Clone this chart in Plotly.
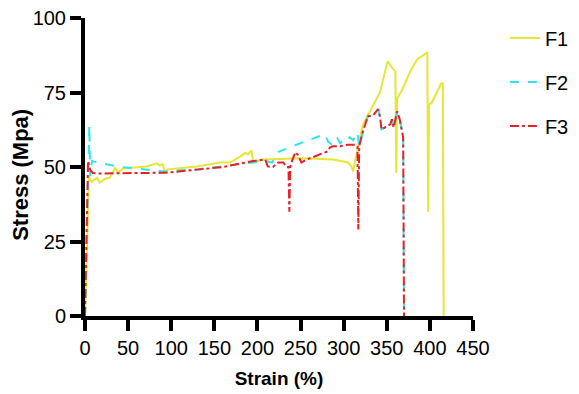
import plotly.graph_objects as go

f1_strain = [0, 4.5, 6, 8, 14, 17, 23, 29, 35, 38, 44, 72, 83, 87, 90, 93, 96, 130, 157, 168, 180, 186, 189, 193, 195, 199, 207, 253, 288, 305, 309, 311, 314, 322, 342, 351, 357, 360, 361, 362, 368, 377, 385, 394, 397, 398, 399, 402, 408, 413, 415, 416]
f1_stress = [0, 47, 45.5, 45, 46.4, 44.8, 46, 46.4, 49.8, 48, 49.5, 50.2, 51.2, 50.5, 51, 48.2, 49.2, 50.2, 51.5, 51.5, 53.5, 54.8, 54.2, 55.6, 51.5, 52, 52.5, 52.9, 52.5, 51.5, 50.2, 48.5, 53, 64, 75, 85.5, 83, 82, 48, 73, 76, 82, 86, 88, 88.5, 35, 71, 71.5, 75, 78, 78, 0]

f2_strain = [0, 3, 5, 6, 8, 15, 41, 60, 90, 130, 168, 190, 209, 217, 224, 250, 278, 282, 286, 292, 296, 299, 303, 307, 311, 316, 318, 322, 328, 334, 340, 342, 344, 348, 354, 356, 358, 362, 365, 369, 370]
f2_stress = [0, 45, 64, 47, 52, 51.5, 50, 49.5, 48.5, 49.2, 50.5, 51.5, 52, 51.5, 55, 58, 61, 58.5, 57.6, 60, 58, 59, 58.5, 60, 59, 61.6, 57, 61.6, 67, 67.3, 69.4, 67, 62.6, 63.3, 64.3, 66, 63.3, 68.7, 66, 60, 0]

f3_strain = [0, 3.5, 6, 9, 14, 95, 160, 195, 209, 212, 218, 224, 230, 234, 236, 237, 238, 240, 244, 247, 251, 257, 281, 284, 288, 296, 305, 313, 316, 317, 318, 322, 328, 334, 340, 342, 344, 348, 354, 356, 358, 362, 365, 369, 370]
f3_stress = [0, 52, 49, 48, 47.8, 48.1, 50, 52, 52.5, 50.2, 50, 51.5, 51.5, 50, 50, 35, 50, 52, 55, 54, 51.5, 52.5, 55.2, 56.5, 57, 57, 57.5, 57.5, 57, 29, 57, 61.6, 67, 67.3, 69.4, 67, 62.6, 63.3, 64.3, 66, 63.3, 68.7, 66, 60, 0]

x_ticks = [0, 50, 100, 150, 200, 250, 300, 350, 400, 450]
y_ticks = [0, 25, 50, 75, 100]

fig = go.Figure()
fig.add_trace(go.Scatter(x=f1_strain, y=f1_stress, mode="lines", name="F1", legendgroup="a",
                         line=dict(color="#e6e635", width=2, dash="solid")))
fig.add_trace(go.Scatter(x=f2_strain, y=f2_stress, mode="lines", name="F2", legendgroup="b",
                         line=dict(color="#30e4ee", width=2, dash="dash")))
fig.add_trace(go.Scatter(x=f3_strain, y=f3_stress, mode="lines", name="F3", legendgroup="c",
                         line=dict(color="#e62228", width=2, dash="dashdot")))

axis_common = dict(showline=True, linecolor="black", linewidth=4, ticks="outside",
                   ticklen=11, tickwidth=4, tickcolor="black", showgrid=False, zeroline=False,
                   automargin=False,
                   tickfont=dict(family="Liberation Sans, Arial", size=20, color="black"))

fig.update_layout(
    width=579, height=394,
    margin=dict(l=85, r=106, t=18, b=78, autoexpand=False),
    paper_bgcolor="white", plot_bgcolor="white",
    xaxis=dict(range=[0, 450], tickvals=x_ticks,
               title=dict(text="<b>Strain (%)</b>", font=dict(family="Liberation Sans, Arial", size=19, color="black")),
               **axis_common),
    yaxis=dict(range=[0, 100], tickvals=y_ticks, **axis_common),
    legend=dict(xref="container", yref="container", x=0.872, y=0.953, xanchor="left", yanchor="top",
                traceorder="grouped", tracegroupgap=15,
                font=dict(family="Liberation Sans, Arial", size=20, color="black"), bgcolor="rgba(0,0,0,0)"),
    annotations=[dict(text="<b>Stress (Mpa)</b>", textangle=-90, xref="paper", yref="paper",
                      x=-0.168, y=0.473, xanchor="center", yanchor="middle", showarrow=False,
                      font=dict(family="Liberation Sans, Arial", size=22, color="black"))],
)

fig.write_html("out.html", config={"displayModeBar": False},
               post_script="document.body.style.margin='0';document.body.style.overflow='hidden';")
